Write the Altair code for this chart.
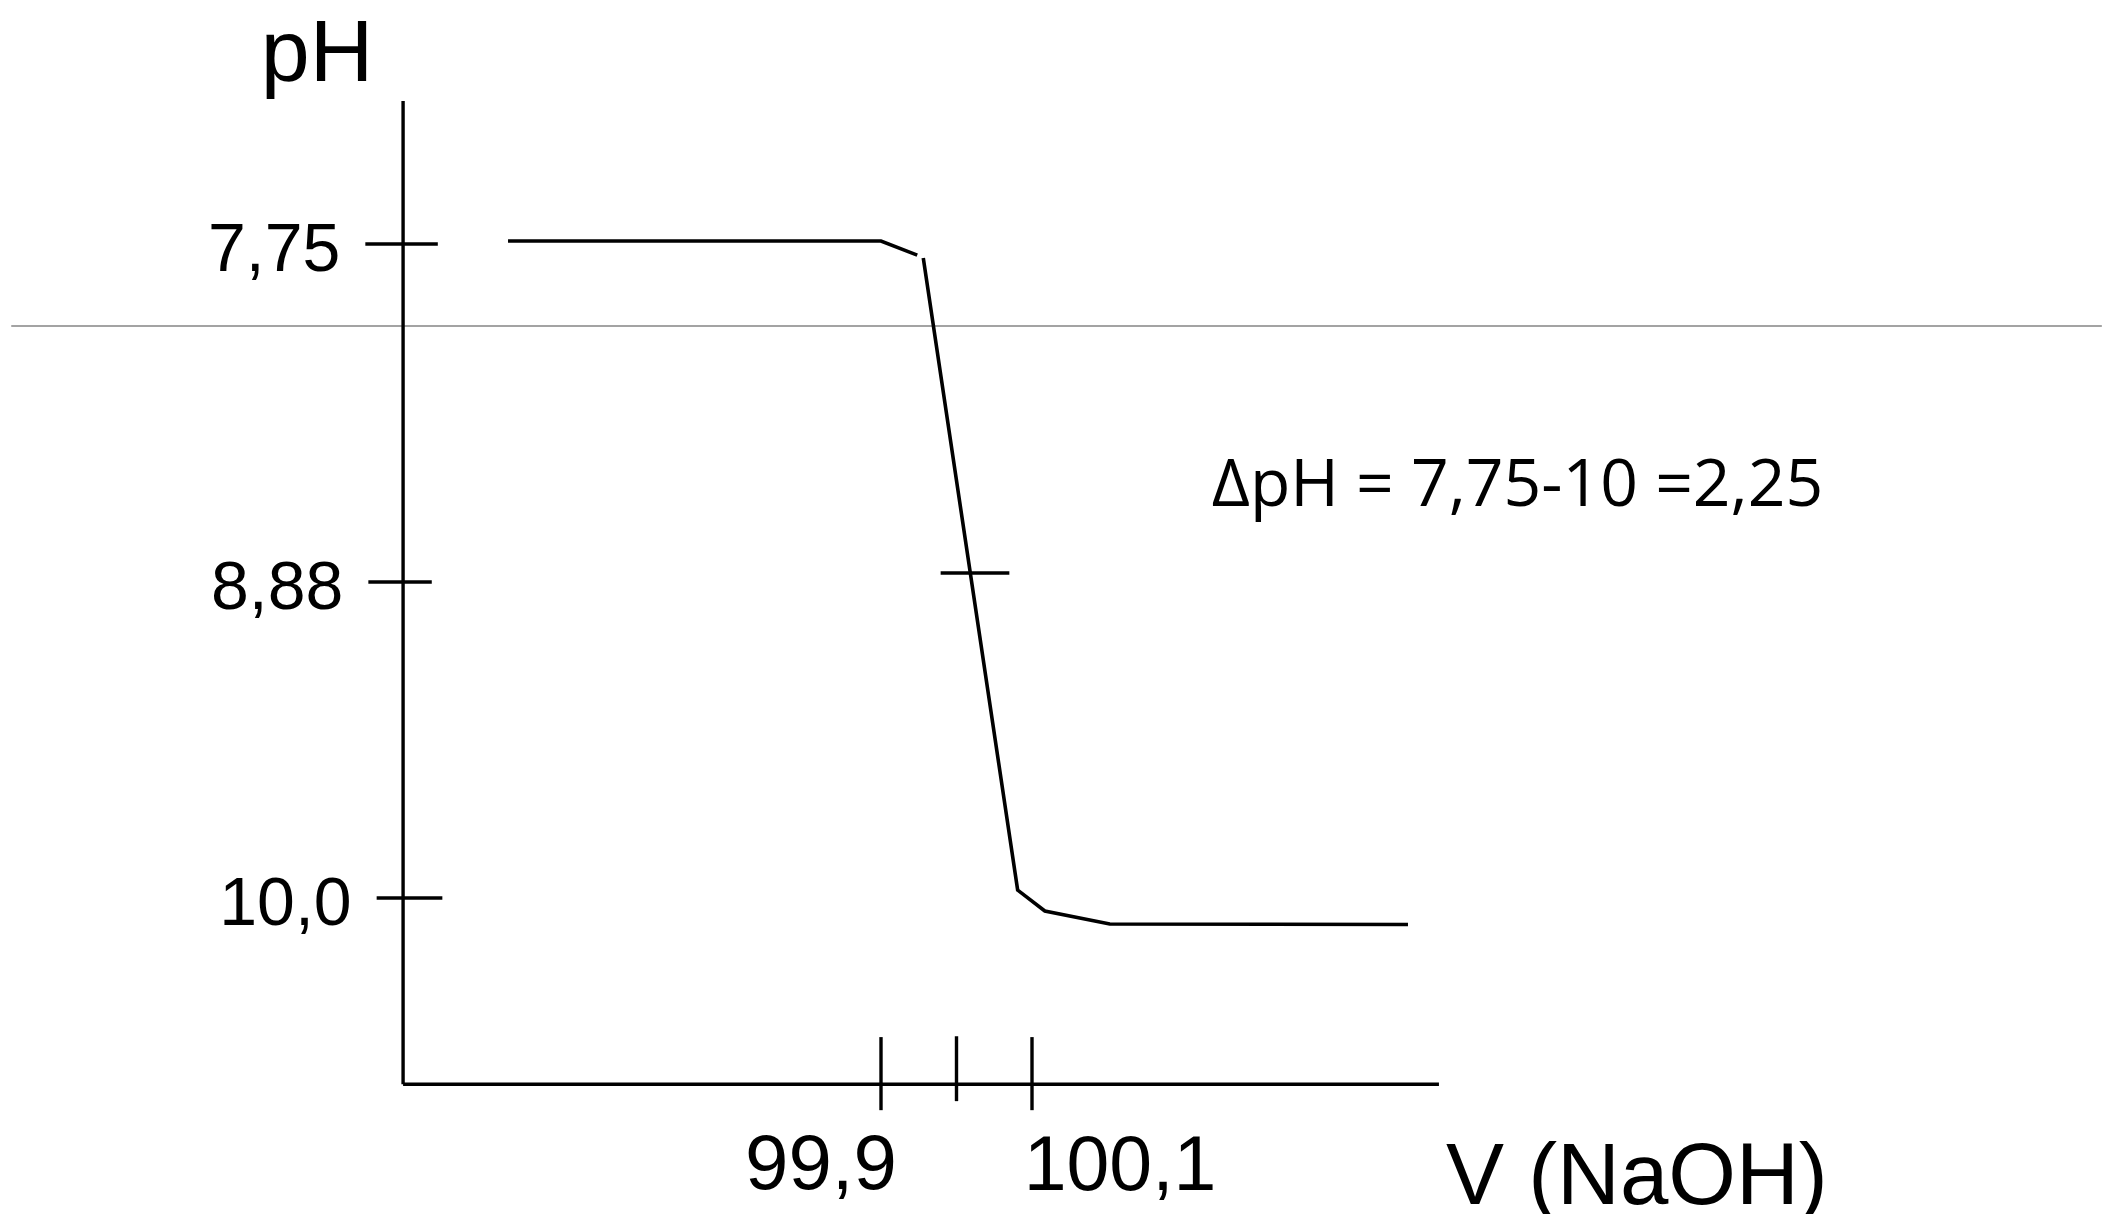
import altair as alt
import pandas as pd

# ---- data (volume of NaOH in mL, pH) ----
curve_v = [99.406, 99.900, 99.948, 99.956, 100.081, 100.117, 100.203, 100.598]
curve_ph = [7.74, 7.74, 7.787, 7.797, 9.972, 10.046, 10.092, 10.094]
curve_seg = [1, 1, 1, 2, 2, 2, 2, 2]

y_ticks = [7.75, 8.88, 10.0]
y_tick_labels = ["7,75", "8,88", "10,0"]
y_tick_left = [99.217, 99.221, 99.232]
y_tick_right = [99.313, 99.305, 99.319]

x_ticks = [99.9, 100.0, 100.1]
x_tick_top = [10.493, 10.49, 10.493]
x_tick_bottom = [10.752, 10.72, 10.752]

origin_v = 99.267
origin_ph = 10.66
y_axis_top = 7.272
x_axis_end = 100.639

mid_tick_ph = 8.85
mid_tick_v = [99.979, 100.070]

ref_ph = 8.024
ref_v = [98.748, 101.517]

note_v, note_ph = 100.338, 8.626
note_text = "ΔpH = 7,75-10 =2,25"

# ---- scales ----
xs = alt.Scale(domain=[99.9, 100.1], range=[873, 1024], nice=False, zero=False)
ys = alt.Scale(domain=[7.75, 8.88, 10.0], range=[236, 574, 890], nice=False, zero=False)

def X(f):
    return alt.X(f, type="quantitative", scale=xs, axis=None)

def Y(f):
    return alt.Y(f, type="quantitative", scale=ys, axis=None)

# black rule segments: axes, axis ticks, tick on curve
rules = []
rules.append(dict(x=origin_v, x2=origin_v, y=y_axis_top, y2=origin_ph))
rules.append(dict(x=origin_v, x2=x_axis_end, y=origin_ph, y2=origin_ph))
for t, l, r in zip(y_ticks, y_tick_left, y_tick_right):
    rules.append(dict(x=l, x2=r, y=t, y2=t))
for t, a, b in zip(x_ticks, x_tick_top, x_tick_bottom):
    rules.append(dict(x=t, x2=t, y=a, y2=b))
rules.append(dict(x=mid_tick_v[0], x2=mid_tick_v[1], y=mid_tick_ph, y2=mid_tick_ph))
rules_df = pd.DataFrame(rules)

ref_df = pd.DataFrame(dict(x=[ref_v[0]], x2=[ref_v[1]], y=[ref_ph]))

curve_df = pd.DataFrame(dict(v=curve_v, ph=curve_ph, seg=curve_seg, i=list(range(len(curve_v)))))

ylab_df = pd.DataFrame(dict(x=y_tick_left, y=y_ticks, t=y_tick_labels))

gray = alt.Chart(ref_df).mark_rule(color="#a3a3a3", strokeWidth=2).encode(
    x=X("x"), x2="x2", y=Y("y"))

black = alt.Chart(rules_df).mark_rule(color="black", strokeWidth=3.4).encode(
    x=X("x"), x2="x2", y=Y("y"), y2="y2")

line = alt.Chart(curve_df).mark_line(color="black", strokeWidth=3.6, strokeJoin="miter").encode(
    x=X("v"), y=Y("ph"), detail="seg:N", order="i:Q")

FONT = "Liberation Sans"

ylabels = alt.Chart(ylab_df).mark_text(
    font=FONT, fontSize=68, align="right", baseline="alphabetic", dx=-25, dy=27, color="black"
).encode(x=X("x"), y=Y("y"), text="t:N")

xlab1 = alt.Chart(pd.DataFrame(dict(x=[x_ticks[0]], y=[origin_ph], t=["99,9"]))).mark_text(
    font=FONT, fontSize=78, align="center", baseline="alphabetic", dx=-60, dy=105, color="black"
).encode(x=X("x"), y=Y("y"), text="t:N")

xlab2 = alt.Chart(pd.DataFrame(dict(x=[x_ticks[2]], y=[origin_ph], t=["100,1"]))).mark_text(
    font=FONT, fontSize=77, align="center", baseline="alphabetic", dx=88, dy=106, color="black"
).encode(x=X("x"), y=Y("y"), text="t:N")

xtitle = alt.Chart(pd.DataFrame(dict(x=[x_axis_end], y=[origin_ph], t=["V (NaOH)"]))).mark_text(
    font=FONT, fontSize=87, align="left", baseline="alphabetic", dx=7, dy=120, color="black"
).encode(x=X("x"), y=Y("y"), text="t:N")

ytitle = alt.Chart(pd.DataFrame(dict(x=[origin_v], y=[y_axis_top], t=["pH"]))).mark_text(
    font=FONT, fontSize=88, align="center", baseline="alphabetic", dx=-86, dy=-20, color="black"
).encode(x=X("x"), y=Y("y"), text="t:N")

note = alt.Chart(pd.DataFrame(dict(x=[note_v], y=[note_ph], t=[note_text]))).mark_text(
    font="Open Sans", fontSize=66, align="left", baseline="alphabetic", color="black"
).encode(x=X("x"), y=Y("y"), text="t:N")

chart = alt.layer(gray, black, line, ylabels, xlab1, xlab2, xtitle, ytitle, note).properties(
    width=2097, height=1206, autosize=alt.AutoSizeParams(type="none"), padding=0,
    background="white"
).configure_view(stroke=None)

chart.save("out.html", embed_options={"renderer": "svg", "actions": False})
